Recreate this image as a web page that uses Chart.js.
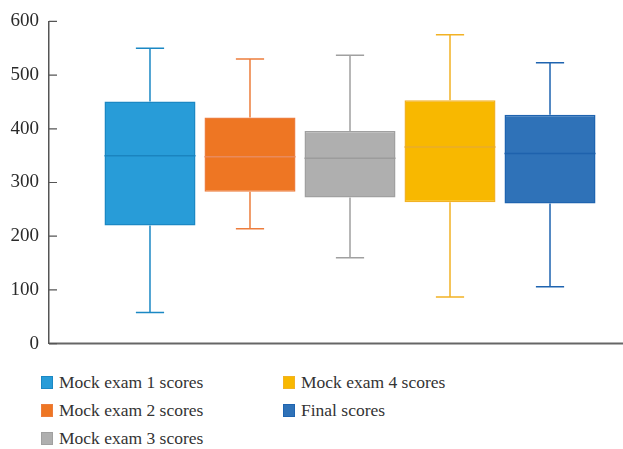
<!DOCTYPE html>
<html>
<head>
<meta charset="utf-8">
<script src="https://cdn.jsdelivr.net/npm/chart.js@4/dist/chart.umd.min.js"></script>
<style>
    html, body { margin: 0; padding: 0; background: #fff; }
    #wrap { position: relative; width: 623px; height: 449px; overflow: hidden; }
    #plot { position: absolute; left: 0; top: 0; width: 680px; height: 365px; }
    #legend {
        position: absolute; left: 41px; top: 368px; margin: 0; padding: 0; list-style: none;
        display: grid; grid-auto-flow: column; grid-template-rows: repeat(3, 28.3px);
        grid-template-columns: 242px auto;
        font-family: "Liberation Serif", "DejaVu Serif", serif; font-size: 17.5px; color: #333;
    }
    #legend li { display: flex; align-items: center; }
    #legend .box { width: 10px; height: 11px; margin-right: 6px; border: 1px solid; }
</style>
</head>
<body>
<div id="wrap">
    <div id="plot"><canvas id="chart"></canvas></div>
    <ul id="legend"></ul>
</div>
<script>
var categories = ["Mock exam 1 scores", "Mock exam 2 scores", "Mock exam 3 scores", "Mock exam 4 scores", "Final scores"];
var minScores = [58, 214, 160, 87, 106];
var q1Scores = [220, 283, 272, 263, 261];
var medianScores = [350, 348, 345, 366, 354];
var q3Scores = [451, 421, 396, 453, 426];
var maxScores = [550, 530, 537, 575, 523];
var yTicks = [0, 100, 200, 300, 400, 500, 600];

var fillColors = ["#289cd8", "#ee7623", "#afafaf", "#f8b800", "#2f72b8"];
var lineColors = ["#1b88c4", "#ed7d3c", "#a0a0a0", "#f2b224", "#1f64b0"];
var medianColors = ["#1a84bf", "#e98a5c", "#9c9c9c", "#e8ad2c", "#1e62ad"];

// one dataset per exam, the box is a floating bar from q1 to q3
var datasets = [];
for (var i = 0; i < categories.length; i++) {
    datasets.push({
        label: categories[i],
        data: [[q1Scores[i], q3Scores[i]]],
        backgroundColor: fillColors[i],
        borderColor: lineColors[i],
        borderWidth: 1.5,
        borderSkipped: false
    });
}

// whiskers, caps and median lines
var whiskers = {
    id: "whiskers",
    afterDatasetsDraw: function (chart) {
        var ctx = chart.ctx;
        var y = chart.scales.y;
        ctx.save();
        for (var i = 0; i < categories.length; i++) {
            var bar = chart.getDatasetMeta(i).data[0];
            var cap = bar.width * 0.31;
            ctx.strokeStyle = lineColors[i];
            ctx.lineWidth = 1.5;
            ctx.beginPath();
            ctx.moveTo(bar.x, y.getPixelForValue(maxScores[i]));
            ctx.lineTo(bar.x, y.getPixelForValue(q3Scores[i]));
            ctx.moveTo(bar.x, y.getPixelForValue(q1Scores[i]));
            ctx.lineTo(bar.x, y.getPixelForValue(minScores[i]));
            ctx.moveTo(bar.x - cap / 2, y.getPixelForValue(maxScores[i]));
            ctx.lineTo(bar.x + cap / 2, y.getPixelForValue(maxScores[i]));
            ctx.moveTo(bar.x - cap / 2, y.getPixelForValue(minScores[i]));
            ctx.lineTo(bar.x + cap / 2, y.getPixelForValue(minScores[i]));
            ctx.stroke();
            ctx.strokeStyle = medianColors[i];
            ctx.beginPath();
            ctx.moveTo(bar.x - bar.width / 2, y.getPixelForValue(medianScores[i]));
            ctx.lineTo(bar.x + bar.width / 2, y.getPixelForValue(medianScores[i]));
            ctx.stroke();
        }
        var area = chart.chartArea;
        // baseline runs out to the canvas edge
        ctx.strokeStyle = "#666";
        ctx.lineWidth = 2;
        ctx.beginPath();
        ctx.moveTo(area.left, area.bottom);
        ctx.lineTo(chart.width, area.bottom);
        ctx.stroke();
        // tick marks point into the plot
        ctx.strokeStyle = "#555";
        ctx.lineWidth = 1.2;
        ctx.beginPath();
        for (var t = 0; t < yTicks.length; t++) {
            var py = y.getPixelForValue(yTicks[t]);
            ctx.moveTo(area.left, py);
            ctx.lineTo(area.left + 8, py);
        }
        ctx.stroke();
        ctx.restore();
    }
};

var chart = new Chart(document.getElementById("chart"), {
    type: "bar",
    data: { labels: [""], datasets: datasets },
    options: {
        responsive: true,
        maintainAspectRatio: false,
        animation: false,
        categoryPercentage: 0.8306,
        barPercentage: 0.91,
        layout: { padding: { left: 0.5, right: 29, top: 20, bottom: 2 } },
        plugins: { legend: { display: false }, tooltip: { enabled: false } },
        scales: {
            x: {
                grid: { display: false, drawTicks: false },
                ticks: { display: false },
                border: { display: false }
            },
            y: {
                min: 0,
                max: 600,
                grid: { display: false, drawTicks: false },
                border: { color: "#555", width: 1.5 },
                ticks: {
                    stepSize: 100,
                    padding: 10,
                    color: "#2a2a2a",
                    font: { family: "'Liberation Serif', 'DejaVu Serif', serif", size: 19 }
                }
            }
        }
    },
    plugins: [whiskers]
});

// legend in two columns, filled top to bottom
var legend = document.getElementById("legend");
chart.data.datasets.forEach(function (ds) {
    var li = document.createElement("li");
    var box = document.createElement("span");
    box.className = "box";
    box.style.background = ds.backgroundColor;
    box.style.borderColor = ds.borderColor;
    li.appendChild(box);
    li.appendChild(document.createTextNode(ds.label));
    legend.appendChild(li);
});
</script>
</body>
</html>
